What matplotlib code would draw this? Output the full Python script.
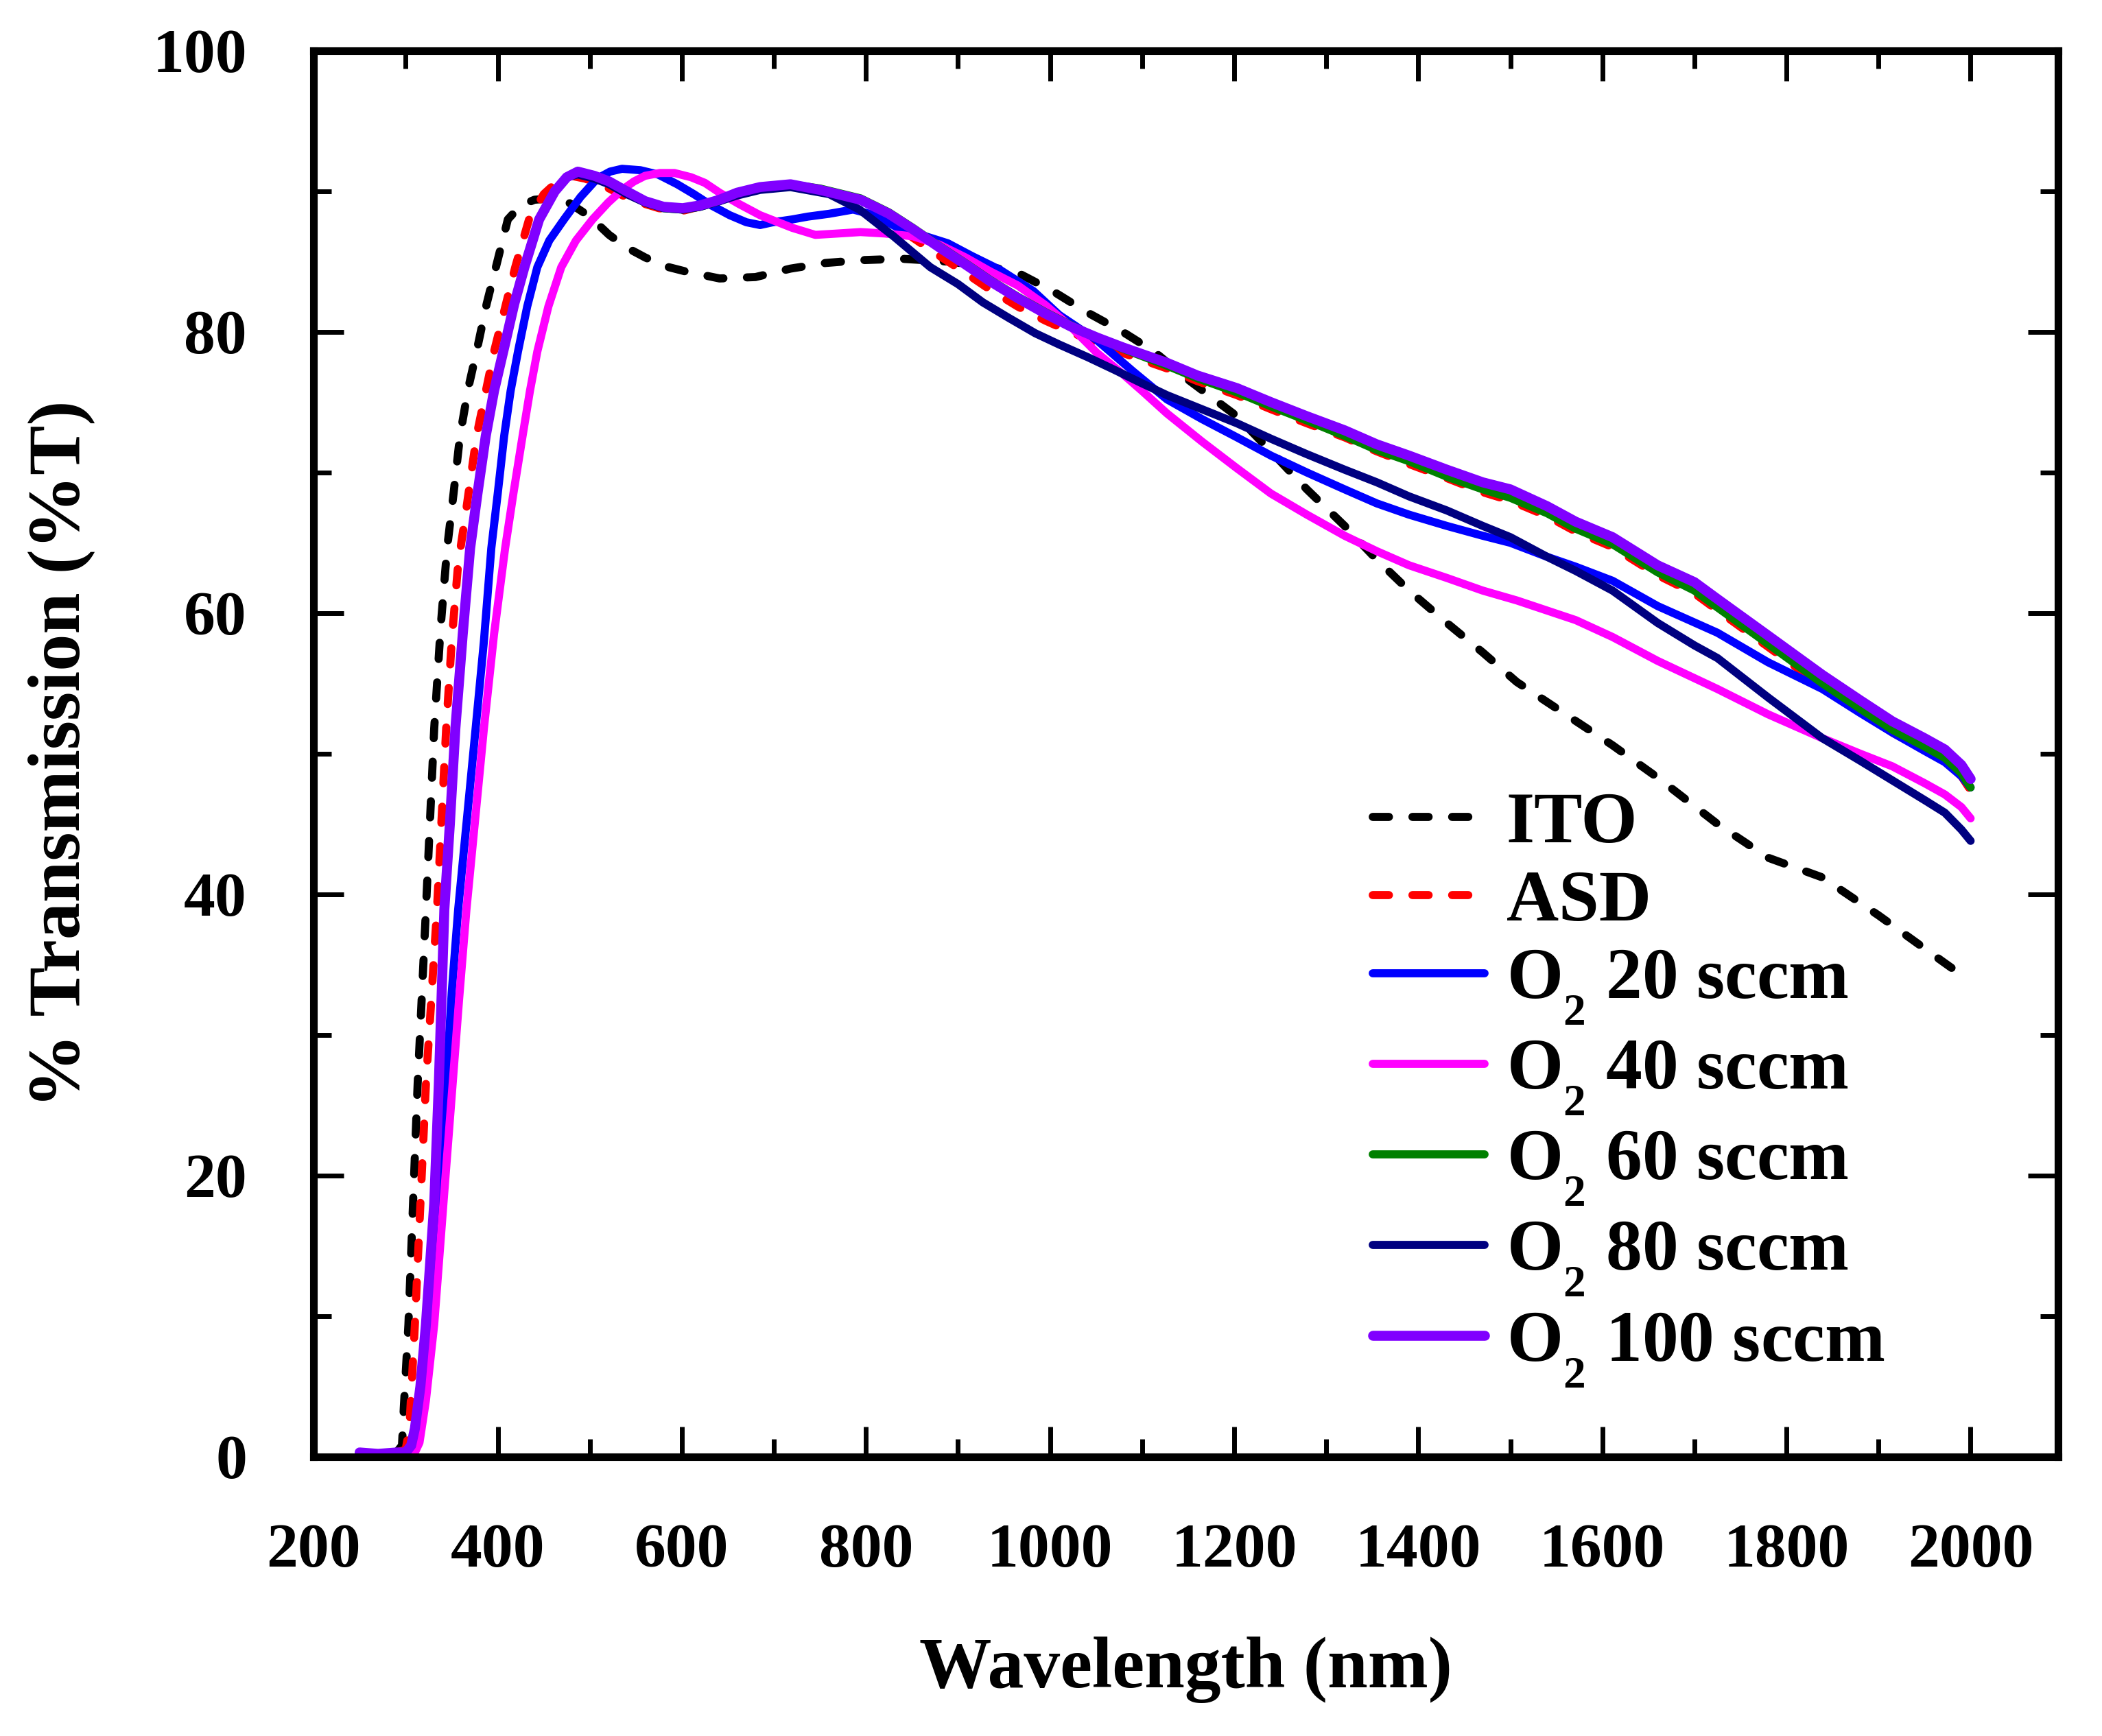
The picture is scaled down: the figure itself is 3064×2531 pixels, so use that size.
import matplotlib
matplotlib.use('Agg')
import matplotlib.pyplot as plt
from matplotlib.ticker import MultipleLocator

# ---------------- data ----------------
ito_wl = [250, 270, 290, 296, 298, 303, 308, 313, 322, 331, 338, 345, 352, 359, 368, 377, 388, 398,
          411, 425, 440, 460, 477, 500, 521, 540, 560, 580, 604, 641, 680, 718, 756, 794, 839, 889,
          930, 965, 1003, 1040, 1079, 1113, 1150, 1203, 1240, 1279, 1320, 1355, 1390, 1431, 1470, 1507,
          1560, 1611, 1660, 1725, 1780, 1839, 1900, 1970, 2000]
ito_t = [0.3, 0.2, 0.3, 0.8, 3.5, 9.4, 18, 26.5, 38.9, 51.8, 59, 64.6, 68.5, 72.6, 76, 78.6, 82, 84.6,
         88.0, 89.0, 89.4, 89.5, 89.2, 88.2, 86.9, 86.0, 85.3, 84.7, 84.3, 83.8, 83.9, 84.5, 84.9, 85.1, 85.2, 85.0,
         84.7, 84.2, 82.9, 81.4, 80.0, 78.6, 76.6, 74.0, 71.5, 68.8, 66.2, 63.8, 61.6, 59.3, 57.2, 55.1,
         52.8, 50.6, 48.3, 45.0, 42.6, 41.2, 38.5, 35.2, 33.8]

asd_wl = [250, 270, 290, 300, 304, 310, 316, 322, 334, 344, 350, 357, 365, 377, 396, 419, 434, 450,
          465, 480, 495, 521, 545, 575, 600, 625, 650, 680, 718, 750, 794, 825, 851, 880, 908, 935,
          965, 995, 1022, 1051, 1079, 1127, 1160, 1203, 1240, 1279, 1320, 1355, 1390, 1431, 1470, 1500,
          1540, 1571, 1611, 1660, 1700, 1725, 1780, 1839, 1880, 1915, 1950, 1972, 1990, 2000]
asd_t = [0.3, 0.2, 0.3, 0.5, 2, 9.4, 18, 26.5, 38.9, 51.8, 58, 63.5, 67, 72.6, 78.6, 84.6, 88.0, 89.8,
         90.7, 91.1, 90.9, 90.2, 89.4, 88.8, 88.6, 89.0, 89.6, 90.2, 90.4, 90.0, 89.1, 87.9, 86.7, 85.4, 84.2, 83.0,
         81.8, 80.8, 80.0, 79.2, 78.5, 77.4, 76.5, 75.5, 74.5, 73.5, 72.5, 71.5, 70.6, 69.6, 68.6, 68.0,
         66.9, 65.8, 64.7, 62.7, 61.4, 60.2, 57.6, 54.8, 53.0, 51.5, 50.3, 49.5, 48.4, 47.4]

o20_wl = [250, 270, 290, 305, 312, 318, 326, 334, 344, 350, 357, 366, 376, 385, 393, 400, 407, 414,
          422, 432, 443, 456, 472, 490, 508, 522, 535, 555, 574, 595, 613, 632, 652, 670, 685, 699,
          720, 737, 760, 786, 810, 832, 860, 889, 915, 946, 982, 1010, 1051, 1090, 1127, 1165, 1203,
          1240, 1279, 1320, 1355, 1390, 1431, 1470, 1500, 1540, 1571, 1611, 1660, 1725, 1780, 1839,
          1880, 1915, 1950, 1972, 1990, 2000]
o20_t = [0.3, 0.2, 0.3, 0.3, 0.8, 3, 9, 17, 26.5, 33, 38.9, 45, 51.8, 58, 64.6, 68.5, 72.6, 75.8,
         78.6, 81.8, 84.6, 86.5, 88.0, 89.6, 90.9, 91.4, 91.6, 91.5, 91.2, 90.5, 89.8, 89.0, 88.3, 87.8, 87.6, 87.8,
         88.0, 88.2, 88.4, 88.7, 88.3, 87.5, 86.9, 86.3, 85.4, 84.4, 82.9, 81.2, 79.4, 77.2, 75.2, 73.8, 72.5,
         71.2, 70.0, 68.8, 67.8, 67.0, 66.2, 65.5, 65.0, 64.0, 63.3, 62.3, 60.5, 58.6, 56.5, 54.6,
         52.9, 51.5, 50.2, 49.4, 48.4, 47.6]

o40_wl = [250, 270, 290, 310, 315, 322, 331, 341, 351, 358, 366, 375, 385, 396, 408, 417, 427, 435,
          443, 455, 469, 485, 503, 520, 535, 548, 560, 576, 592, 610, 625, 641, 662, 685, 720, 745,
          770, 794, 820, 851, 880, 908, 935, 965, 995, 1022, 1051, 1079, 1100, 1127, 1165, 1203, 1240,
          1279, 1320, 1355, 1390, 1431, 1470, 1507, 1571, 1611, 1660, 1725, 1780, 1839, 1880, 1915,
          1950, 1972, 1990, 2000]
o40_t = [0.3, 0.2, 0.3, 0.3, 1, 4, 9.4, 18, 26.5, 32.5, 38.9, 45, 51.8, 58.5, 64.6, 68.5, 72.6, 75.8,
         78.6, 81.8, 84.6, 86.5, 88.0, 89.2, 90.1, 90.7, 91.1, 91.3, 91.3, 91.0, 90.6, 89.9, 89.1, 88.3, 87.4, 86.9,
         87.0, 87.1, 87.0, 86.8, 86.2, 85.3, 84.3, 83.3, 81.9, 80.4, 78.5, 77.0, 75.8, 74.2, 72.2, 70.3, 68.5,
         67.0, 65.5, 64.4, 63.4, 62.5, 61.6, 60.9, 59.5, 58.3, 56.6, 54.6, 52.8, 51.1, 50.0, 49.1,
         47.9, 47.1, 46.2, 45.4]

o60_wl = [250, 270, 290, 300, 306, 310, 316, 322, 331, 336, 342, 348, 354, 362, 370, 378, 387, 396,
          406, 418, 429, 445, 462, 475, 487, 505, 521, 540, 560, 580, 601, 620, 641, 660, 685, 718,
          750, 794, 825, 851, 880, 908, 935, 965, 995, 1022, 1051, 1079, 1127, 1160, 1203, 1240, 1279,
          1320, 1355, 1390, 1431, 1470, 1500, 1540, 1571, 1611, 1660, 1700, 1725, 1780, 1839, 1880,
          1915, 1950, 1972, 1990, 2000]
o60_t = [0.3, 0.2, 0.3, 0.3, 0.8, 2, 5, 9.4, 18, 26.5, 38.9, 45, 51.8, 58.5, 64.6, 68.5, 72.6, 75.8,
         78.6, 82, 84.6, 88.0, 90.0, 91.0, 91.3, 91.0, 90.6, 89.9, 89.2, 88.8, 88.7, 88.9, 89.3, 89.8, 90.2, 90.5,
         90.2, 89.5, 88.5, 87.4, 86.1, 84.9, 83.7, 82.5, 81.4, 80.5, 79.6, 78.8, 77.6, 76.7, 75.7, 74.7, 73.7,
         72.6, 71.6, 70.8, 69.7, 68.8, 68.2, 67.1, 66.0, 64.9, 62.9, 61.6, 60.4, 57.8, 55.0, 53.2,
         51.7, 50.5, 49.7, 48.6, 47.6]

o80_wl = [250, 270, 290, 300, 306, 310, 316, 322, 331, 336, 342, 348, 354, 362, 370, 378, 387, 396,
          406, 418, 429, 445, 462, 475, 487, 505, 521, 540, 560, 580, 601, 620, 641, 660, 685, 718,
          760, 793, 830, 870, 900, 927, 955, 984, 1010, 1041, 1070, 1098, 1127, 1165, 1203, 1240, 1279,
          1320, 1355, 1390, 1431, 1470, 1500, 1540, 1571, 1611, 1660, 1700, 1725, 1780, 1839, 1880,
          1915, 1950, 1972, 1990, 2000]
o80_t = [0.3, 0.2, 0.3, 0.3, 0.8, 2, 5, 9.4, 18, 26.5, 38.9, 45, 51.8, 58.5, 64.6, 68.5, 72.6, 75.8,
         78.6, 82, 84.6, 88.0, 90.0, 91.0, 91.2, 90.9, 90.5, 89.8, 89.2, 88.8, 88.7, 88.9, 89.3, 89.7, 90.1, 90.3,
         89.8, 88.7, 86.8, 84.6, 83.4, 82.1, 81.0, 79.9, 79.1, 78.2, 77.3, 76.4, 75.5, 74.5, 73.5, 72.4, 71.3,
         70.2, 69.3, 68.3, 67.3, 66.2, 65.4, 64.0, 63.0, 61.6, 59.3, 57.7, 56.8, 54.0, 51.1, 49.5,
         48.1, 46.7, 45.8, 44.6, 43.8]

o100_wl = [250, 270, 290, 300, 306, 310, 316, 322, 331, 336, 342, 348, 354, 362, 370, 378, 387, 396,
           406, 418, 429, 445, 462, 475, 487, 505, 521, 540, 560, 580, 601, 620, 641, 660, 685, 718,
           750, 794, 825, 851, 880, 908, 935, 965, 995, 1022, 1051, 1079, 1127, 1160, 1203, 1240, 1279,
           1320, 1355, 1390, 1431, 1470, 1500, 1540, 1571, 1611, 1660, 1700, 1725, 1780, 1839, 1880,
           1915, 1950, 1972, 1990, 2000]
o100_t = [0.3, 0.2, 0.3, 0.3, 0.8, 2, 5, 9.4, 18, 26.5, 38.9, 45, 51.8, 58.5, 64.6, 68.5, 72.6, 75.8,
          78.6, 82, 84.6, 88.0, 90.0, 91.0, 91.4, 91.1, 90.7, 90.0, 89.3, 88.9, 88.8, 89.0, 89.4, 89.9, 90.3, 90.5,
          90.1, 89.4, 88.4, 87.3, 86.0, 84.8, 83.6, 82.4, 81.3, 80.4, 79.6, 78.9, 77.8, 76.9, 76.0, 75.0, 74.0,
          73.0, 72.0, 71.2, 70.2, 69.3, 68.8, 67.6, 66.5, 65.4, 63.4, 62.2, 61.0, 58.4, 55.6, 53.8,
          52.3, 51.1, 50.3, 49.2, 48.2]

labels = ["ITO", "ASD", r"O$_2$ 20 sccm", r"O$_2$ 40 sccm", r"O$_2$ 60 sccm",
          r"O$_2$ 80 sccm", r"O$_2$ 100 sccm"]
x_ticks = [200, 400, 600, 800, 1000, 1200, 1400, 1600, 1800, 2000]
y_ticks = [0, 20, 40, 60, 80, 100]

# ---------------- styling ----------------
plt.rcParams['font.family'] = ['Liberation Serif', 'DejaVu Serif']
plt.rcParams['font.weight'] = 'bold'
plt.rcParams['mathtext.fontset'] = 'custom'
plt.rcParams['mathtext.rm'] = 'Liberation Serif:bold'
plt.rcParams['mathtext.it'] = 'Liberation Serif:bold'
plt.rcParams['mathtext.bf'] = 'Liberation Serif:bold'
plt.rcParams['mathtext.default'] = 'rm'

# make the subscript sit lower, like the reference (optional tweak)
try:
    import matplotlib._mathtext as _mt
    _mt.FontConstantsBase.sub1 = 0.8
    _mt.SHRINK_FACTOR = 0.62
except Exception:
    pass

fig = plt.figure(figsize=(30.64, 25.31), dpi=100)
ax = fig.add_axes([0.1492, 0.1609, 0.8299, 0.8099])

lw = 8.5
dash = dict(linestyle=(0, (2.0, 2.9)), dash_capstyle='round')
ax.plot(ito_wl, ito_t, color='black', lw=lw, label=labels[0], **dash)
ax.plot(asd_wl, asd_t, color='#ff0000', lw=lw, label=labels[1], **dash)
ax.plot(o20_wl, o20_t, color='#0000ff', lw=lw, label=labels[2], solid_capstyle='round')
ax.plot(o40_wl, o40_t, color='#ff00ff', lw=lw, label=labels[3], solid_capstyle='round')
ax.plot(o60_wl, o60_t, color='#008000', lw=lw, label=labels[4], solid_capstyle='round')
ax.plot(o80_wl, o80_t, color='#000080', lw=lw, label=labels[5], solid_capstyle='round')
ax.plot(o100_wl, o100_t, color='#8000ff', lw=lw + 2, label=labels[6], solid_capstyle='round')

ax.set_xlim(200, 2095)
ax.set_ylim(0, 100)
ax.set_xticks(x_ticks)
ax.set_yticks(y_ticks)
ax.xaxis.set_minor_locator(MultipleLocator(100))
ax.yaxis.set_minor_locator(MultipleLocator(10))

for s in ax.spines.values():
    s.set_linewidth(8)

ax.tick_params(which='both', direction='in', top=True, right=True, width=5)
ax.tick_params(which='major', length=32, labelsize=66, pad=70)
ax.tick_params(which='minor', length=19)
for lab in ax.get_xticklabels() + ax.get_yticklabels():
    lab.set_fontweight('bold')

ax.set_xlabel("Wavelength (nm)", fontsize=76, fontweight='bold', labelpad=60)
ax.set_ylabel("% Transmission (%T)", fontsize=78, fontweight='bold', labelpad=60)

leg = ax.legend(loc='upper left', bbox_to_anchor=(0.607, 0.473), frameon=False,
                prop={'size': 76, 'weight': 'bold'}, handlelength=1.55, handletextpad=0.3,
                labelspacing=0.16, borderpad=0, borderaxespad=0)

fig.savefig('out.png', dpi=100, facecolor='white')
